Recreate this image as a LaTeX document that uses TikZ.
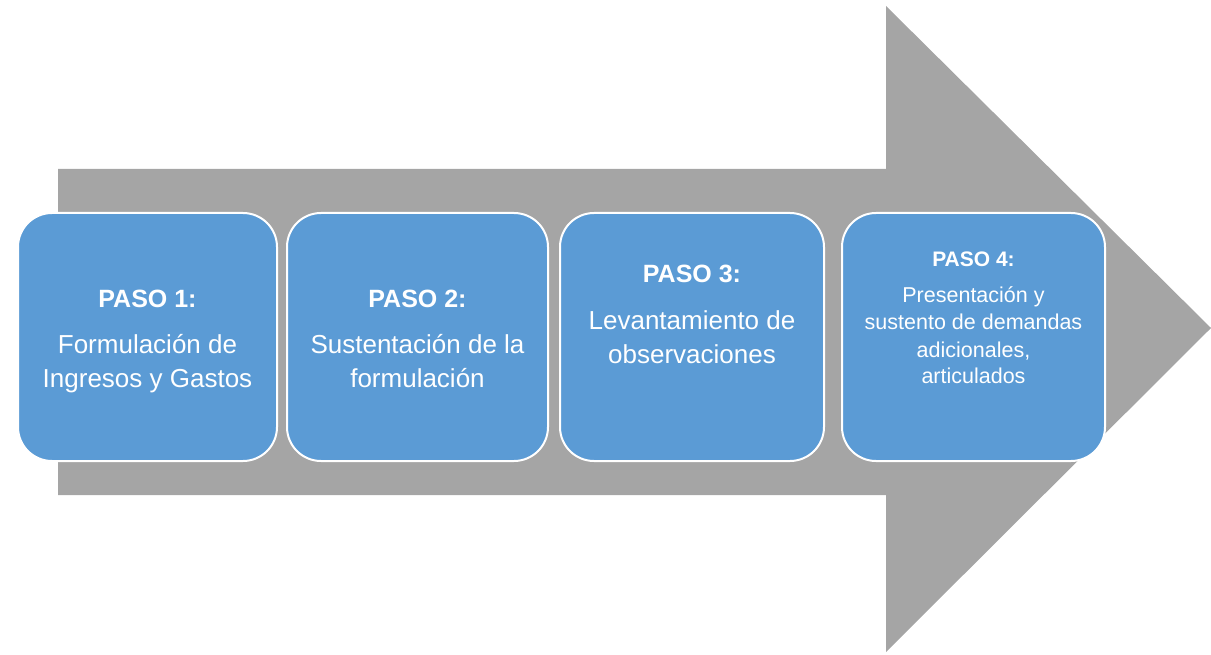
\documentclass[tikz,border=0pt]{standalone}
\usepackage{fontspec}
\setmainfont{Liberation Sans}
\definecolor{arrowgray}{HTML}{A5A5A5}
\definecolor{boxblue}{HTML}{5B9BD5}
\begin{document}
\begin{tikzpicture}[x=1pt,y=-1pt,
  stepbox/.style={draw=white, line width=2pt, fill=boxblue, rounded corners=34pt, inner sep=0pt},
  head/.style={text=white, anchor=base, inner sep=0pt, font=\fontsize{25}{30}\selectfont\bfseries},
  body/.style={text=white, anchor=base, inner sep=0pt, font=\fontsize{26}{34}\selectfont},
  headsm/.style={text=white, anchor=base, inner sep=0pt, font=\fontsize{21}{27}\selectfont\bfseries},
  bodysm/.style={text=white, anchor=base, inner sep=0pt, font=\fontsize{21.5}{27}\selectfont}]
\useasboundingbox (0,0) rectangle (1211,655);
% big arrow
\fill[arrowgray] (58,169) -- (886,169) -- (886,6) -- (1211,328) -- (886,652) -- (886,495) -- (58,495) -- cycle;
% boxes
\draw[stepbox] (18,213) rectangle (277,461);
\draw[stepbox] (287,213) rectangle (548,461);
\draw[stepbox] (560,213) rectangle (824,461);
\draw[stepbox] (842,213) rectangle (1105,461);
% box 1
\node[head] (h1) at (147.5,308) {PASO 1:};
\node[body] (a1) at (147.5,353) {Formulación de};
\node[body] (b1) at (147.5,387) {Ingresos y Gastos};
% box 2
\node[head] (h2) at (417.5,308) {PASO 2:};
\node[body] (a2) at (417.5,353) {Sustentación de la};
\node[body] (b2) at (417.5,387) {formulación};
% box 3
\node[head] (h3) at (692,283) {PASO 3:};
\node[body] (a3) at (692,330) {Levantamiento de};
\node[body] (b3) at (692,363) {observaciones};
% box 4
\node[headsm] (h4) at (973.5,267) {PASO 4:};
\node[bodysm] (a4) at (973.5,302) {Presentación y};
\node[bodysm] (b4) at (973.5,330) {sustento de demandas};
\node[bodysm] (c4) at (973.5,357) {adicionales,};
\node[bodysm] (d4) at (973.5,383) {articulados};
\end{tikzpicture}
\end{document}
